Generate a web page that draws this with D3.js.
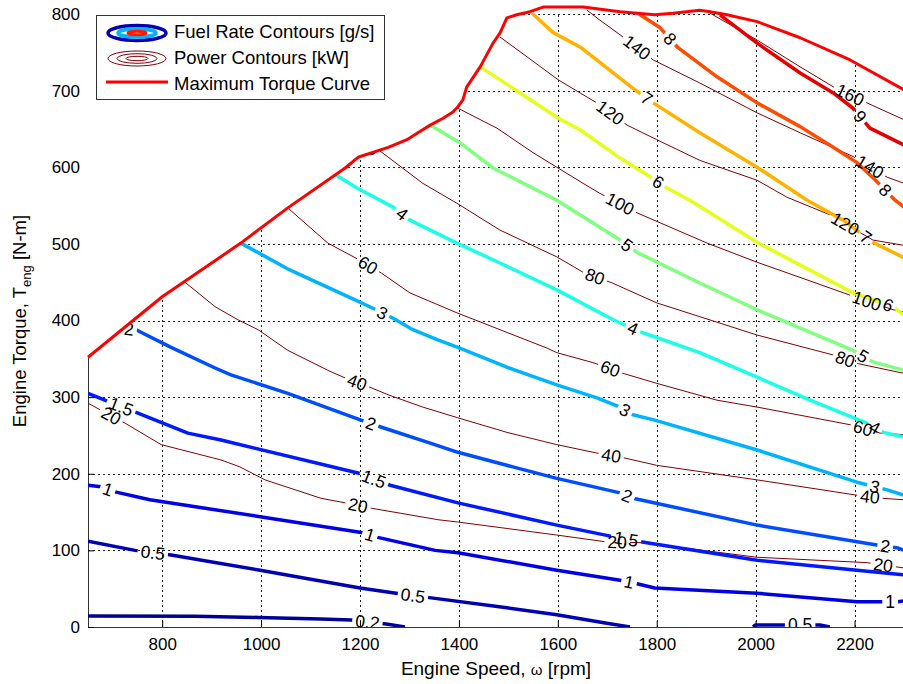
<!DOCTYPE html>
<html>
<head>
<meta charset="utf-8">
<script src="https://cdn.jsdelivr.net/npm/d3@7"></script>
<style>
  body { margin: 0; background: #fff; }
  svg { display: block; }
  text { font-family: "Liberation Sans", Arial, sans-serif; }
</style>
</head>
<body>
<script>
// axis ticks
const xTicks = [800, 1000, 1200, 1400, 1600, 1800, 2000, 2200];
const yTicks = [0, 100, 200, 300, 400, 500, 600, 700, 800];

// maximum torque curve [rpm, N-m]
const maxTorque = [[650,352],[800,431],[959,501],[1054,547],[1170,599],[1196,613],[1257,626],[1295,636],
  [1317,645],[1342,655],[1368,664],[1388,672],[1398,679],[1408,688],[1416,705],[1443,731],[1469,762],
  [1483,775],[1497,795],[1517,799],[1544,803],[1570,809],[1610,809],[1651,809],[1726,803],[1760,801],
  [1796,799],[1833,801],[1887,805],[1908,803],[1942,799],[2003,790],[2090,769],[2191,740],[2300,701]];

// fuel rate contours [g/s]
const fuelLevel = [0.2, 0.5, 0.5, 1, 1.5, 2, 3, 4, 5, 6, 7, 8, 9];
const fuelLines = [
  [[650,14.5],[866,14],[994,12.5],[1121,10.5],[1182,9],[1253,4],[1291,0]],
  [[650,112],[745,100],[818,94],[998,74],[1200,51],[1273,44],[1344,38],[1497,25],[1598,16],[1699,5],[1746,0]],
  [[1995,0],[1999,2.5],[2055,2.5],[2130,2.5],[2150,0]],
  [[650,185],[676,183],[707,176],[775,166],[998,144],[1206,123],[1236,117],[1352,100],[1398,97],[1598,74],
   [1726,61],[1756,57],[1796,51],[2003,44],[2205,33],[2288,33],[2300,34]],
  [[650,305],[684,296],[751,279],[852,253],[919,244],[1196,201],[1261,185],[1398,162],[1598,133],[1726,116],
   [1780,110],[2003,87],[2205,74],[2300,68]],
  [[729,389],[747,388],[818,365],[907,338],[939,329],[1054,305],[1202,270],[1242,261],[1342,240],[1398,228],
   [1509,209],[1598,194],[1726,175],[1752,168],[2003,133],[2245,107],[2288,103],[2300,100]],
  [[959,501],[1058,466],[1190,427],[1226,416],[1267,403],[1307,388],[1356,375],[1398,365],[1497,339],[1598,316],
   [1679,299],[1726,287],[1752,277],[1796,270],[2003,231],[2205,189],[2266,179],[2300,172]],
  [[1151,590],[1194,573],[1267,548],[1301,531],[1396,501],[1483,475],[1598,440],[1712,401],[1772,384],[1887,358],
   [2003,326],[2110,296],[2225,266],[2258,254],[2300,248]],
  [[1342,655],[1402,632],[1469,599],[1598,557],[1726,505],[1760,489],[1887,449],[2003,414],[2197,361],[2237,346],[2300,335]],
  [[1443,731],[1524,697],[1601,664],[1645,649],[1726,612],[1786,588],[1821,573],[1867,557],[2003,502],[2197,436],[2278,418],[2300,407]],
  [[1548,801],[1590,776],[1645,757],[1685,737],[1752,703],[1793,684],[1887,645],[2003,600],[2104,557],[2177,531],[2237,502],[2300,482]],
  [[1762,801],[1807,782],[1843,756],[1922,718],[2003,684],[2090,653],[2157,626],[2205,606],[2241,584],[2282,557],[2300,548]],
  [[1928,799],[2003,762],[2090,723],[2157,697],[2197,677],[2231,651],[2300,629]]
];
const fuelLabelRpm = [[1215],[781,1307],[2090],[690,1220,1744,2272],[717,1228,1738],[733,1222,1740,2262],
  [1245,1736,2241],[1285,1752,2241],[1740,2217],[1803,2268],[1780,2223],[1827,2262],[2211]];

// power contours [kW]
const powerLevel = [20, 40, 60, 80, 100, 120, 140, 160];
const powerLines = [
  [[650,292],[676,283],[725,266],[798,238],[919,218],[957,209],[1008,192],[1121,168],[1170,162],[1223,155],
   [1358,140],[1398,137],[1598,120],[1699,111],[1772,110],[2003,91],[2225,84],[2300,77]],
  [[846,450],[907,418],[953,401],[994,388],[1054,361],[1135,335],[1170,325],[1220,313],[1257,303],[1327,287],
   [1398,273],[1497,254],[1598,238],[1679,227],[1732,221],[1800,211],[2003,192],[2205,172],[2256,168],[2300,166]],
  [[1054,547],[1135,501],[1190,482],[1243,462],[1301,436],[1396,410],[1483,388],[1578,364],[1598,358],[1671,345],
   [1732,331],[1800,318],[1922,296],[2003,287],[2191,264],[2252,253],[2300,251]],
  [[1200,630],[1243,620],[1327,579],[1396,553],[1483,518],[1598,483],[1651,463],[1710,449],[1800,423],[2003,381],
   [2157,355],[2205,344],[2300,331]],
  [[1398,677],[1477,651],[1550,619],[1598,600],[1651,579],[1685,566],[1762,540],[1902,501],[2003,476],[2104,453],
   [2191,433],[2278,414],[2300,411]],
  [[1483,770],[1538,744],[1601,714],[1645,697],[1679,684],[1740,655],[1800,636],[1887,609],[2003,583],[2063,561],
   [2150,538],[2237,505],[2300,498]],
  [[1659,805],[1685,792],[1732,770],[1793,740],[1887,710],[2003,671],[2090,645],[2197,614],[2266,587],[2300,579]],
  [[1908,801],[2003,766],[2090,731],[2157,705],[2225,684],[2300,662]]
];
const powerLabelRpm = [[697,1196,1720,2258],[1194,1708,2231],[1216,1706,2217],[1216,1675,2181],
  [1726,2225],[1706,2181],[1760,2231],[2191]];

const width = 903, height = 684;
const x = d3.scaleLinear().domain([650, 2300]).range([88, 904]);
const y = d3.scaleLinear().domain([0, 800]).range([627, 14]);

const svg = d3.select('body').append('svg')
  .attr('width', width)
  .attr('height', height);
const defs = svg.append('defs');
defs.append('clipPath').attr('id', 'plot')
  .append('rect').attr('x', 88).attr('y', 0).attr('width', 816).attr('height', 627);

// MATLAB jet colormap, caxis 0..10
function jet(v) {
  const t = v / 10;
  const c = u => Math.max(0, Math.min(1, u));
  const r = c(Math.min(4 * t - 1.5, -4 * t + 4.5));
  const g = c(Math.min(4 * t - 0.5, -4 * t + 3.5));
  const b = c(Math.min(4 * t + 0.5, -4 * t + 2.5));
  return d3.rgb(r * 255, g * 255, b * 255).toString();
}

// grid
const grid = svg.append('g')
  .attr('stroke', '#222')
  .attr('stroke-width', 1)
  .attr('stroke-dasharray', '2,3');
grid.selectAll('.vg').data(xTicks).enter().append('line')
  .attr('x1', d => Math.round(x(d)) + 0.5).attr('x2', d => Math.round(x(d)) + 0.5)
  .attr('y1', y(0)).attr('y2', y(800));
grid.selectAll('.hg').data(yTicks.slice(1)).enter().append('line')
  .attr('y1', d => Math.round(y(d)) + 0.5).attr('y2', d => Math.round(y(d)) + 0.5)
  .attr('x1', x(650)).attr('x2', x(2300));

// axes
const xAxis = svg.append('g')
  .attr('transform', `translate(0,${y(0)})`)
  .call(d3.axisBottom(x).tickValues(xTicks).tickFormat(d3.format('d'))
    .tickSize(-6).tickSizeOuter(0).tickPadding(11));
const yAxis = svg.append('g')
  .attr('transform', `translate(${x(650)},0)`)
  .call(d3.axisLeft(y).tickValues(yTicks).tickFormat(d3.format('d'))
    .tickSize(-6).tickSizeOuter(0).tickPadding(8));
[xAxis, yAxis].forEach(a => {
  a.selectAll('text').attr('font-size', 17).attr('fill', '#000')
    .attr('font-family', '"Liberation Sans", Arial, sans-serif');
  a.selectAll('line').attr('stroke', '#000');
  a.select('.domain').attr('stroke', '#333');
});

// contour helpers
const line = d3.line().x(d => x(d[0])).y(d => y(d[1]));

function pointAt(pts, r) {
  let i = 0;
  while (i < pts.length - 2 && pts[i + 1][0] < r) i++;
  const a = pts[i], b = pts[i + 1];
  const t = (r - a[0]) / (b[0] - a[0]);
  return [x(a[0] + t * (b[0] - a[0])), y(a[1] + t * (b[1] - a[1]))];
}

function textWidth(s) {
  let w = 0;
  for (const ch of s) w += ch === '.' ? 4.9 : 9.8;
  return w;
}

const plot = svg.append('g').attr('clip-path', 'url(#plot)');
const labels = [];

function drawContours(lines, levels, labelRpm, color, strokeW, prefix) {
  lines.forEach((pts, i) => {
    const id = prefix + i;
    const mask = defs.append('mask').attr('id', id)
      .attr('maskUnits', 'userSpaceOnUse')
      .attr('x', 0).attr('y', 0).attr('width', width).attr('height', height);
    mask.append('rect').attr('width', width).attr('height', height).attr('fill', '#fff');
    const txt = String(levels[i]);
    labelRpm[i].forEach(r => {
      const p = pointAt(pts, r);
      const p1 = pointAt(pts, r - 15), p2 = pointAt(pts, r + 15);
      const ang = Math.atan2(p2[1] - p1[1], p2[0] - p1[0]) * 180 / Math.PI;
      const w = textWidth(txt) + 6;
      mask.append('rect')
        .attr('x', -w / 2).attr('y', -8).attr('width', w).attr('height', 16)
        .attr('transform', `translate(${p[0]},${p[1]}) rotate(${ang})`)
        .attr('fill', '#000');
      labels.push({ x: p[0], y: p[1], a: ang, txt });
    });
    plot.append('path')
      .datum(pts)
      .attr('d', line)
      .attr('fill', 'none')
      .attr('stroke', color(levels[i]))
      .attr('stroke-width', strokeW)
      .attr('stroke-linejoin', 'round')
      .attr('mask', `url(#${id})`);
  });
}

drawContours(powerLines, powerLevel, powerLabelRpm, () => '#800000', 1, 'pm');
drawContours(fuelLines, fuelLevel, fuelLabelRpm, jet, 3.5, 'fm');

plot.selectAll('.clabel').data(labels).enter().append('text')
  .attr('class', 'clabel')
  .attr('transform', d => `translate(${d.x},${d.y}) rotate(${d.a})`)
  .attr('text-anchor', 'middle')
  .attr('dy', '0.35em')
  .attr('font-size', 17.5)
  .attr('fill', '#000')
  .text(d => d.txt);

// blank out the region above the maximum torque curve
plot.append('path')
  .datum(maxTorque)
  .attr('d', d3.area().x(d => x(d[0])).y0(-20).y1(d => y(d[1])))
  .attr('fill', '#fff');

svg.append('path')
  .datum(maxTorque)
  .attr('d', line)
  .attr('fill', 'none')
  .attr('stroke', '#ff0000')
  .attr('stroke-width', 3)
  .attr('stroke-linejoin', 'round');

// axis titles
svg.append('text')
  .attr('x', 496).attr('y', 675)
  .attr('text-anchor', 'middle')
  .attr('font-size', 19)
  .call(t => {
    t.append('tspan').text('Engine Speed, ');
    t.append('tspan').attr('font-size', 15).text('ω');
    t.append('tspan').text(' [rpm]');
  });

svg.append('text')
  .attr('transform', 'translate(26,321) rotate(-90)')
  .attr('text-anchor', 'middle')
  .attr('font-size', 18.5)
  .call(t => {
    t.append('tspan').text('Engine Torque, T');
    t.append('tspan').attr('font-size', 13).attr('dy', 5).text('eng');
    t.append('tspan').attr('dy', -5).text(' [N-m]');
  });

// legend
const legend = svg.append('g');
legend.append('rect')
  .attr('x', 96.5).attr('y', 15.5).attr('width', 288).attr('height', 84)
  .attr('fill', '#fff').attr('stroke', '#333').attr('stroke-width', 1);

const fuelIcon = legend.append('g').attr('fill', 'none');
fuelIcon.append('ellipse').attr('cx', 137).attr('cy', 33).attr('rx', 29).attr('ry', 7.5)
  .attr('stroke', jet(0.5)).attr('stroke-width', 3.5);
fuelIcon.append('ellipse').attr('cx', 137).attr('cy', 33).attr('rx', 19).attr('ry', 4)
  .attr('stroke', jet(3)).attr('stroke-width', 3.5);
fuelIcon.append('ellipse').attr('cx', 137).attr('cy', 33).attr('rx', 9).attr('ry', 1.8)
  .attr('stroke', jet(8.5)).attr('stroke-width', 3);

const powerIcon = legend.append('g').attr('fill', 'none').attr('stroke', '#800000').attr('stroke-width', 1);
[[29, 7.5], [20, 4.8], [11, 2.2]].forEach(([rx, ry]) => {
  powerIcon.append('ellipse').attr('cx', 137).attr('cy', 58.5).attr('rx', rx).attr('ry', ry);
});

legend.append('line')
  .attr('x1', 106).attr('x2', 168).attr('y1', 82).attr('y2', 82)
  .attr('stroke', '#ff0000').attr('stroke-width', 3);

const legendText = ['Fuel Rate Contours [g/s]', 'Power Contours [kW]', 'Maximum Torque Curve'];
legend.selectAll('.lt').data(legendText).enter().append('text')
  .attr('x', 174)
  .attr('y', (d, i) => 38 + i * 26)
  .attr('font-size', 18.5)
  .attr('fill', '#000')
  .text(d => d);
</script>
</body>
</html>
